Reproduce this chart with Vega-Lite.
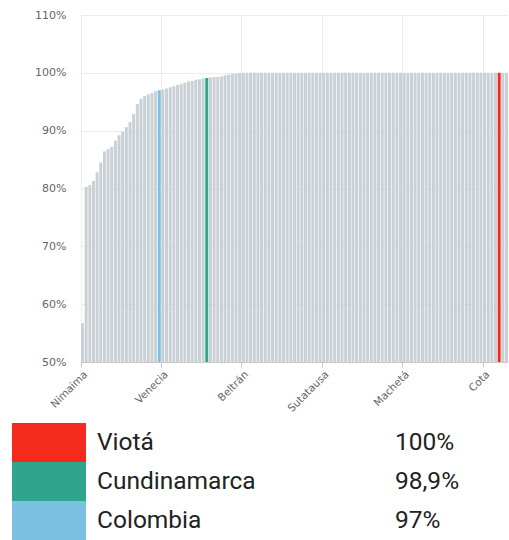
{
  "$schema": "https://vega.github.io/schema/vega-lite/v6.json",
  "padding": {"left": 12, "top": 9, "right": 0, "bottom": 0},
  "background": "white",
  "config": {"view": {"stroke": null}},
  "datasets": {
    "municipios": [
      {"nombre": "Nimaima", "valor": 56.7, "grupo": "Otro"},
      {"nombre": "Agua de Dios", "valor": 80.3, "grupo": "Otro"},
      {"nombre": "Albán", "valor": 80.6, "grupo": "Otro"},
      {"nombre": "Anapoima", "valor": 81.3, "grupo": "Otro"},
      {"nombre": "Anolaima", "valor": 82.8, "grupo": "Otro"},
      {"nombre": "Apulo", "valor": 84.5, "grupo": "Otro"},
      {"nombre": "Arbeláez", "valor": 86.4, "grupo": "Otro"},
      {"nombre": "Bituima", "valor": 86.8, "grupo": "Otro"},
      {"nombre": "Bojacá", "valor": 87.2, "grupo": "Otro"},
      {"nombre": "Cabrera", "valor": 88.3, "grupo": "Otro"},
      {"nombre": "Cachipay", "valor": 89.2, "grupo": "Otro"},
      {"nombre": "Cajicá", "valor": 89.8, "grupo": "Otro"},
      {"nombre": "Caparrapí", "valor": 90.6, "grupo": "Otro"},
      {"nombre": "Cáqueza", "valor": 91.5, "grupo": "Otro"},
      {"nombre": "Carmen de Carupa", "valor": 92.9, "grupo": "Otro"},
      {"nombre": "Chaguaní", "valor": 94.6, "grupo": "Otro"},
      {"nombre": "Chía", "valor": 95.5, "grupo": "Otro"},
      {"nombre": "Chipaque", "valor": 96.0, "grupo": "Otro"},
      {"nombre": "Choachí", "valor": 96.3, "grupo": "Otro"},
      {"nombre": "Chocontá", "valor": 96.5, "grupo": "Otro"},
      {"nombre": "Cogua", "valor": 96.8, "grupo": "Otro"},
      {"nombre": "Colombia", "valor": 97.0, "grupo": "Colombia"},
      {"nombre": "Venecia", "valor": 97.1, "grupo": "Otro"},
      {"nombre": "Cucunubá", "valor": 97.3, "grupo": "Otro"},
      {"nombre": "El Colegio", "valor": 97.5, "grupo": "Otro"},
      {"nombre": "El Peñón", "valor": 97.7, "grupo": "Otro"},
      {"nombre": "El Rosal", "valor": 97.9, "grupo": "Otro"},
      {"nombre": "Facatativá", "valor": 98.1, "grupo": "Otro"},
      {"nombre": "Fómeque", "valor": 98.3, "grupo": "Otro"},
      {"nombre": "Fosca", "valor": 98.5, "grupo": "Otro"},
      {"nombre": "Funza", "valor": 98.6, "grupo": "Otro"},
      {"nombre": "Fúquene", "valor": 98.8, "grupo": "Otro"},
      {"nombre": "Fusagasugá", "valor": 98.9, "grupo": "Otro"},
      {"nombre": "Gachalá", "valor": 99.0, "grupo": "Otro"},
      {"nombre": "Cundinamarca", "valor": 99.1, "grupo": "Cundinamarca"},
      {"nombre": "Gachancipá", "valor": 99.2, "grupo": "Otro"},
      {"nombre": "Gachetá", "valor": 99.3, "grupo": "Otro"},
      {"nombre": "Gama", "valor": 99.3, "grupo": "Otro"},
      {"nombre": "Girardot", "valor": 99.4, "grupo": "Otro"},
      {"nombre": "Granada", "valor": 99.6, "grupo": "Otro"},
      {"nombre": "Guachetá", "valor": 99.7, "grupo": "Otro"},
      {"nombre": "Guaduas", "valor": 99.8, "grupo": "Otro"},
      {"nombre": "Guasca", "valor": 99.9, "grupo": "Otro"},
      {"nombre": "Guataquí", "valor": 99.95, "grupo": "Otro"},
      {"nombre": "Beltrán", "valor": 100, "grupo": "Otro"},
      {"nombre": "Guatavita", "valor": 100, "grupo": "Otro"},
      {"nombre": "Guayabetal", "valor": 100, "grupo": "Otro"},
      {"nombre": "Gutiérrez", "valor": 100, "grupo": "Otro"},
      {"nombre": "Jerusalén", "valor": 100, "grupo": "Otro"},
      {"nombre": "Junín", "valor": 100, "grupo": "Otro"},
      {"nombre": "La Calera", "valor": 100, "grupo": "Otro"},
      {"nombre": "La Mesa", "valor": 100, "grupo": "Otro"},
      {"nombre": "La Palma", "valor": 100, "grupo": "Otro"},
      {"nombre": "La Peña", "valor": 100, "grupo": "Otro"},
      {"nombre": "La Vega", "valor": 100, "grupo": "Otro"},
      {"nombre": "Lenguazaque", "valor": 100, "grupo": "Otro"},
      {"nombre": "Madrid", "valor": 100, "grupo": "Otro"},
      {"nombre": "Manta", "valor": 100, "grupo": "Otro"},
      {"nombre": "Medina", "valor": 100, "grupo": "Otro"},
      {"nombre": "Mosquera", "valor": 100, "grupo": "Otro"},
      {"nombre": "Nariño", "valor": 100, "grupo": "Otro"},
      {"nombre": "Nemocón", "valor": 100, "grupo": "Otro"},
      {"nombre": "Nilo", "valor": 100, "grupo": "Otro"},
      {"nombre": "Nocaima", "valor": 100, "grupo": "Otro"},
      {"nombre": "Pacho", "valor": 100, "grupo": "Otro"},
      {"nombre": "Paime", "valor": 100, "grupo": "Otro"},
      {"nombre": "Sutatausa", "valor": 100, "grupo": "Otro"},
      {"nombre": "Pandi", "valor": 100, "grupo": "Otro"},
      {"nombre": "Paratebueno", "valor": 100, "grupo": "Otro"},
      {"nombre": "Pasca", "valor": 100, "grupo": "Otro"},
      {"nombre": "Puerto Salgar", "valor": 100, "grupo": "Otro"},
      {"nombre": "Pulí", "valor": 100, "grupo": "Otro"},
      {"nombre": "Quebradanegra", "valor": 100, "grupo": "Otro"},
      {"nombre": "Quetame", "valor": 100, "grupo": "Otro"},
      {"nombre": "Quipile", "valor": 100, "grupo": "Otro"},
      {"nombre": "Ricaurte", "valor": 100, "grupo": "Otro"},
      {"nombre": "San Antonio del Tequendama", "valor": 100, "grupo": "Otro"},
      {"nombre": "San Bernardo", "valor": 100, "grupo": "Otro"},
      {"nombre": "San Cayetano", "valor": 100, "grupo": "Otro"},
      {"nombre": "San Francisco", "valor": 100, "grupo": "Otro"},
      {"nombre": "San Juan de Rioseco", "valor": 100, "grupo": "Otro"},
      {"nombre": "Sasaima", "valor": 100, "grupo": "Otro"},
      {"nombre": "Sesquilé", "valor": 100, "grupo": "Otro"},
      {"nombre": "Sibaté", "valor": 100, "grupo": "Otro"},
      {"nombre": "Silvania", "valor": 100, "grupo": "Otro"},
      {"nombre": "Simijaca", "valor": 100, "grupo": "Otro"},
      {"nombre": "Soacha", "valor": 100, "grupo": "Otro"},
      {"nombre": "Sopó", "valor": 100, "grupo": "Otro"},
      {"nombre": "Machetá", "valor": 100, "grupo": "Otro"},
      {"nombre": "Subachoque", "valor": 100, "grupo": "Otro"},
      {"nombre": "Suesca", "valor": 100, "grupo": "Otro"},
      {"nombre": "Supatá", "valor": 100, "grupo": "Otro"},
      {"nombre": "Susa", "valor": 100, "grupo": "Otro"},
      {"nombre": "Tabio", "valor": 100, "grupo": "Otro"},
      {"nombre": "Tausa", "valor": 100, "grupo": "Otro"},
      {"nombre": "Tena", "valor": 100, "grupo": "Otro"},
      {"nombre": "Tenjo", "valor": 100, "grupo": "Otro"},
      {"nombre": "Tibacuy", "valor": 100, "grupo": "Otro"},
      {"nombre": "Tibirita", "valor": 100, "grupo": "Otro"},
      {"nombre": "Tocaima", "valor": 100, "grupo": "Otro"},
      {"nombre": "Tocancipá", "valor": 100, "grupo": "Otro"},
      {"nombre": "Topaipí", "valor": 100, "grupo": "Otro"},
      {"nombre": "Ubalá", "valor": 100, "grupo": "Otro"},
      {"nombre": "Ubaque", "valor": 100, "grupo": "Otro"},
      {"nombre": "Ubaté", "valor": 100, "grupo": "Otro"},
      {"nombre": "Une", "valor": 100, "grupo": "Otro"},
      {"nombre": "Útica", "valor": 100, "grupo": "Otro"},
      {"nombre": "Vergara", "valor": 100, "grupo": "Otro"},
      {"nombre": "Vianí", "valor": 100, "grupo": "Otro"},
      {"nombre": "Villagómez", "valor": 100, "grupo": "Otro"},
      {"nombre": "Cota", "valor": 100, "grupo": "Otro"},
      {"nombre": "Villapinzón", "valor": 100, "grupo": "Otro"},
      {"nombre": "Villeta", "valor": 100, "grupo": "Otro"},
      {"nombre": "Yacopí", "valor": 100, "grupo": "Otro"},
      {"nombre": "Viotá", "valor": 100, "grupo": "Viotá"},
      {"nombre": "Zipacón", "valor": 100, "grupo": "Otro"},
      {"nombre": "Zipaquirá", "valor": 100, "grupo": "Otro"}
    ],
    "leyenda": [
      {"nombre": "Viotá", "grupo": "Viotá", "texto": "100%"},
      {"nombre": "Cundinamarca", "grupo": "Cundinamarca", "texto": "98,9%"},
      {"nombre": "Colombia", "grupo": "Colombia", "texto": "97%"}
    ]
  },
  "spacing": 9,
  "vconcat": [
    {
      "data": {"name": "municipios"},
      "width": 496,
      "height": 347,
      "mark": {"type": "bar"},
      "encoding": {
        "x": {
          "field": "nombre", "type": "nominal", "sort": null,
          "scale": {"paddingInner": 0.18, "paddingOuter": 0, "range": [69, 496]},
          "axis": {
            "values": ["Nimaima", "Venecia", "Beltrán", "Sutatausa", "Machetá", "Cota"],
            "bandPosition": 0, "labelAngle": -45, "title": null, "grid": true,
            "gridColor": "#ececec", "domainColor": "#c8c8c8", "tickColor": "#c8c8c8", "tickSize": 5,
            "labelFont": "DejaVu Sans", "labelFontSize": 10.5, "labelColor": "#666666"
          }
        },
        "y": {
          "field": "valor", "type": "quantitative",
          "scale": {"domain": [50, 110], "zero": false, "nice": false},
          "axis": {
            "values": [50, 60, 70, 80, 90, 100, 110], "labelExpr": "datum.value + '%'",
            "title": null, "domain": false, "ticks": false, "labelPadding": 15, "offset": -69, "minExtent": 0,
            "gridColor": "#ececec", "labelFont": "DejaVu Sans", "labelFontSize": 11, "labelColor": "#666666"
          }
        },
        "y2": {"datum": 50},
        "color": {
          "field": "grupo", "type": "nominal",
          "scale": {"domain": ["Viotá", "Cundinamarca", "Colombia", "Otro"], "range": ["#f42a1c", "#2fa58e", "#7cc1e4", "#c9d1d6"]},
          "legend": null
        }
      }
    },
    {
      "spacing": 10,
      "hconcat": [
        {
          "data": {"name": "leyenda"},
          "width": 74,
          "height": 117,
          "mark": {"type": "rect"},
          "encoding": {
            "y": {
              "field": "nombre", "type": "nominal", "sort": null,
              "scale": {"paddingInner": 0, "paddingOuter": 0},
              "axis": {
                "orient": "right", "title": null, "domain": false, "ticks": false,
                "labelPadding": 10.5, "minExtent": 289, "labelFont": "Roboto", "labelFontSize": 24.5,
                "labelColor": "#222222", "grid": false
              }
            },
            "color": {"field": "grupo", "type": "nominal", "legend": null}
          }
        },
        {
          "data": {"name": "leyenda"},
          "width": 0,
          "height": 117,
          "mark": {"type": "text", "align": "left", "baseline": "middle", "font": "Roboto", "fontSize": 24.5, "color": "#222222"},
          "encoding": {
            "y": {"field": "nombre", "type": "nominal", "sort": null, "scale": {"paddingInner": 0, "paddingOuter": 0}, "axis": null},
            "text": {"field": "texto"}
          }
        }
      ]
    }
  ]
}
